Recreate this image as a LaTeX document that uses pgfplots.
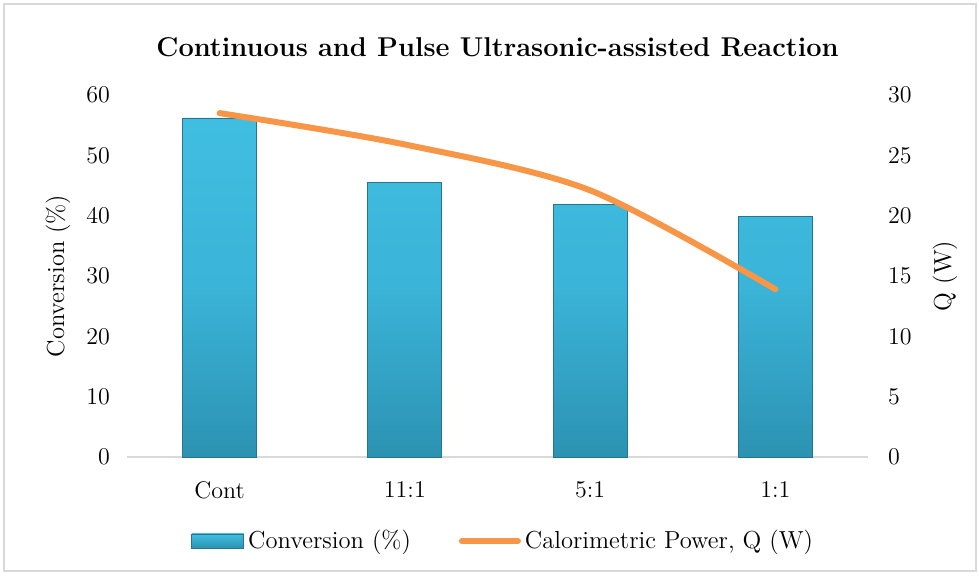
\documentclass[border=0pt]{standalone}
\usepackage{pgfplots}
\pgfplotsset{compat=1.18}
\definecolor{bartop}{RGB}{64,190,225}
\definecolor{barmid}{RGB}{58,180,216}
\definecolor{barbot}{RGB}{44,146,178}
\definecolor{baredge}{RGB}{38,118,145}
\definecolor{qorange}{RGB}{247,150,70}
\definecolor{axgray}{RGB}{217,217,217}
\begin{document}
\begin{tikzpicture}[x=1pt,y=1pt]
\path[use as bounding box] (-63.5,-59) rectangle (426,228.5);
\draw[axgray, line width=0.8pt] (-61.5,-57) rectangle (424.5,226.5);
\pgfplotsset{
  common/.style={
    at={(0,0)}, anchor=south west, scale only axis,
    width=370.5pt, height=181pt,
    xmin=-0.5, xmax=3.5,
    tick style={draw=none},
    ticklabel style={font=\fontsize{12}{14}\selectfont},
    label style={font=\fontsize{12.3}{14}\selectfont},
  }
}
\begin{axis}[common,
  ymin=0, ymax=60, ytick={0,10,...,60},
  xtick={0,1,2,3}, xticklabels={Cont,11:1,5:1,1:1},
  axis y line*=left, axis x line*=bottom,
  y axis line style={draw=none},
  x axis line style={draw=axgray, line width=1pt},
  xticklabel style={anchor=center, yshift=-16.5pt},
  yticklabel style={xshift=-5pt},
  ylabel={Conversion (\%)},
  ylabel style={at={(axis description cs:-0.093,0.5)}, anchor=center},
]
\addplot[ybar, bar width=37pt, draw=baredge, top color=bartop, bottom color=barbot, middle color=barmid]
  coordinates {(0,56.2) (1,45.5) (2,41.8) (3,39.9)};
\end{axis}
\begin{axis}[common,
  ymin=0, ymax=30, ytick={0,5,...,30},
  axis y line*=right, axis x line=none,
  y axis line style={draw=none},
  yticklabel style={xshift=6.5pt},
  ylabel={Q (W)},
  ylabel style={at={(axis description cs:1.104,0.5)}, anchor=center, rotate=0},
  legend columns=2,
  legend style={at={(axis description cs:0.509,-0.232)}, anchor=center, draw=none,
    font=\fontsize{12.3}{14}\selectfont,
    /tikz/every even column/.append style={column sep=22pt}},
]
\addlegendimage{legend image code/.code={\draw[draw=baredge, top color=bartop, bottom color=barbot] (0pt,-3.5pt) rectangle (26pt,3.5pt);}}
\addlegendentry{Conversion (\%)}
\addplot[qorange, line width=3pt, smooth, line cap=round,
  legend image code/.code={\draw[qorange, line width=3pt, line cap=round] (0pt,0pt) -- (28pt,0pt);}]
  coordinates {(0,28.5) (1,25.9) (2,22.1) (3,13.9)};
\addlegendentry{Calorimetric Power, Q (W)}
\end{axis}
\node at (185.25,205) {\fontsize{13.6}{16}\selectfont\bfseries Continuous and Pulse Ultrasonic-assisted Reaction};
\end{tikzpicture}
\end{document}
